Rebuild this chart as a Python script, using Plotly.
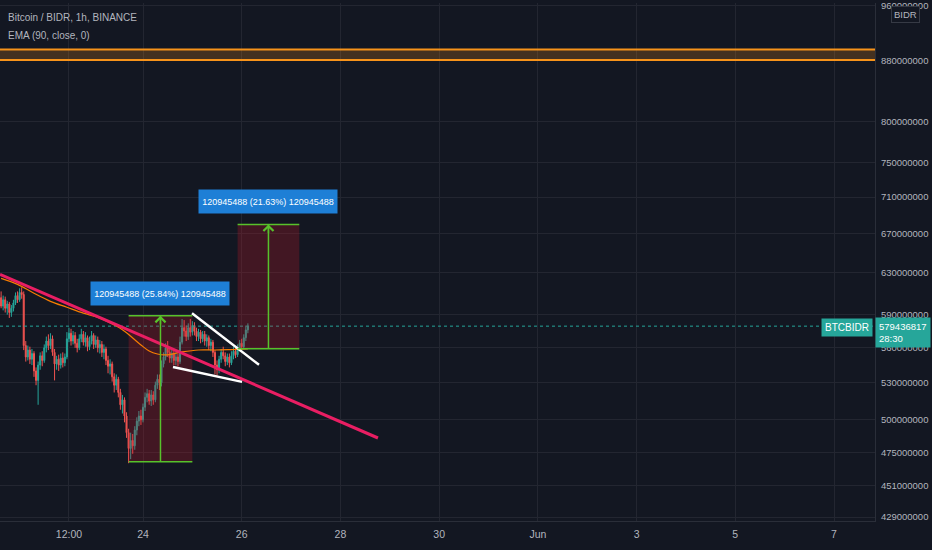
import math
import pandas as pd
import plotly.graph_objects as go

# ---------------- data (prices in millions of BIDR) ----------------
candle_start = "2021-05-21 03:00"
opens = [606, 598, 604, 596, 600, 592, 596, 601, 608, 604, 611, 609, 562, 552, 558, 550, 555, 540, 532, 545,
         553, 549, 560, 566, 562, 568, 556, 546, 550, 545, 551, 547, 552, 568, 573, 566, 571, 564, 560, 568,
         572, 565, 569, 561, 566, 571, 563, 567, 560, 563, 556, 559, 549, 544, 546, 535, 528, 533, 522, 512,
         516, 503, 490, 478, 484, 480, 492, 499, 503, 500, 510, 518, 521, 515, 520, 516, 528, 533, 530, 546,
         552, 560, 556, 551, 555, 549, 552, 548, 565, 578, 575, 570, 578, 574, 580, 575, 570, 574, 568, 572,
         566, 569, 562, 565, 556, 545, 541, 550, 556, 553, 548, 552, 547, 553, 557, 554, 560, 564, 561, 569, 576]
highs = [612, 608, 607, 603, 602, 599, 604, 611, 612, 615, 616, 612, 566, 562, 561, 559, 557, 543, 548, 556,
         557, 563, 570, 572, 573, 571, 559, 553, 554, 555, 556, 555, 574, 578, 577, 575, 574, 568, 572, 577,
         575, 574, 571, 570, 575, 573, 571, 570, 567, 566, 563, 561, 553, 550, 548, 538, 537, 535, 525, 520,
         518, 506, 493, 490, 489, 495, 502, 507, 508, 513, 522, 525, 524, 524, 523, 531, 537, 537, 549, 556,
         564, 566, 560, 559, 558, 556, 555, 570, 586, 585, 580, 582, 586, 584, 583, 578, 577, 576, 575, 575,
         572, 571, 568, 567, 558, 549, 553, 559, 561, 556, 555, 555, 557, 561, 560, 563, 567, 568, 572, 580, 582]
lows = [596, 594, 592, 590, 587, 588, 593, 599, 601, 602, 605, 558, 548, 549, 546, 545, 535, 528, 512, 541,
        544, 547, 556, 558, 559, 553, 532, 541, 540, 542, 543, 544, 550, 565, 562, 563, 560, 556, 558, 565,
        562, 561, 557, 558, 563, 559, 560, 556, 555, 552, 550, 545, 538, 537, 531, 522, 524, 518, 508, 505,
        498, 486, 467, 470, 474, 477, 488, 495, 496, 498, 507, 514, 512, 511, 512, 514, 525, 524, 527, 543,
        549, 552, 547, 547, 545, 545, 544, 546, 563, 570, 566, 567, 570, 571, 571, 566, 566, 564, 565, 562,
        561, 558, 557, 552, 537, 536, 538, 547, 550, 544, 545, 543, 545, 550, 551, 552, 557, 558, 559, 566, 573]
closes = [598, 604, 596, 600, 592, 596, 601, 608, 604, 611, 609, 562, 552, 558, 550, 555, 540, 532, 545, 553,
          549, 560, 566, 562, 568, 556, 546, 550, 545, 551, 547, 552, 568, 573, 566, 571, 564, 560, 568, 572,
          565, 569, 561, 566, 571, 563, 567, 560, 563, 556, 559, 549, 544, 546, 535, 528, 533, 522, 512, 516,
          503, 490, 478, 484, 480, 492, 499, 503, 500, 510, 518, 521, 515, 520, 516, 528, 533, 530, 546, 552,
          560, 556, 551, 555, 549, 552, 548, 565, 578, 575, 570, 578, 574, 580, 575, 570, 574, 568, 572, 566,
          569, 562, 565, 556, 545, 541, 550, 556, 553, 548, 552, 547, 553, 557, 554, 560, 564, 561, 569, 576, 579.436817]

ema_times = ["2021-05-21 03:00", "2021-05-21 11:00", "2021-05-21 19:00", "2021-05-22 03:00", "2021-05-22 11:00",
             "2021-05-22 19:00", "2021-05-23 03:00", "2021-05-23 11:00", "2021-05-23 15:00", "2021-05-23 19:00",
             "2021-05-23 23:00", "2021-05-24 03:00", "2021-05-24 07:00", "2021-05-24 11:00", "2021-05-24 19:00",
             "2021-05-25 03:00", "2021-05-25 11:00", "2021-05-25 19:00", "2021-05-26 03:00"]
ema_values = [624.7, 618.8, 610.2, 602.5, 596.9, 591.4, 586.8, 579.5, 574.9, 568.7,
              562.5, 557.2, 554.6, 553.8, 556.4, 558.1, 558.1, 558.5, 559.0]

trend_times = ["2021-05-21 02:28", "2021-05-28 18:15"]
trend_prices = [628.6, 485.9]
wedge_upper_times = ["2021-05-24 23:50", "2021-05-26 08:25"]
wedge_upper_prices = [591.4, 545.2]
wedge_lower_times = ["2021-05-24 14:35", "2021-05-26 00:10"]
wedge_lower_prices = [543.4, 530.8]

move_size = 120945488
pos1_times = ["2021-05-23 17:00", "2021-05-25 00:00"]
pos1_pct = 25.84
pos2_times = ["2021-05-25 22:00", "2021-05-27 04:00"]
pos2_pct = 21.63

band_prices = [881.0, 895.5]
last_price = 579436817
countdown = "28:30"

x_range = ["2021-05-21 02:28", "2021-06-07 19:56"]
x_tick_vals = ["2021-05-22 12:00", "2021-05-24", "2021-05-26", "2021-05-28", "2021-05-30",
               "2021-06-01", "2021-06-03", "2021-06-05", "2021-06-07"]
x_tick_text = ["12:00", "24", "26", "28", "30", "Jun", "3", "5", "7"]
y_tick_vals = [429e6, 451e6, 475e6, 500e6, 530e6, 560e6, 590e6, 630e6, 670e6, 710e6, 750e6, 800e6, 880e6, 960e6]
y_tick_text = [str(int(v)) for v in y_tick_vals]
y_range_log = [8.62981, 8.98390]

# ---------------- styling ----------------
BG = "#131722"
GRID = "#232631"
TXT = "#b2b5be"
UP = "#26a69a"
DOWN = "#ef5350"
GREEN = "#57c22b"
FONT = "Liberation Sans, Arial, sans-serif"

M = 1e6
times = pd.date_range(candle_start, periods=len(closes), freq="h")

fig = go.Figure()

# current price dotted line (behind candles)
fig.add_trace(go.Scatter(x=x_range, y=[last_price, last_price], mode="lines",
                         line=dict(color=UP, width=1, dash="dot"), hoverinfo="skip"))

fig.add_trace(go.Candlestick(
    x=times, open=[v * M for v in opens], high=[v * M for v in highs],
    low=[v * M for v in lows], close=[v * M for v in closes],
    increasing=dict(line=dict(color=UP, width=1), fillcolor=UP),
    decreasing=dict(line=dict(color=DOWN, width=1), fillcolor=DOWN),
    whiskerwidth=0, hoverinfo="skip"))

# orange horizontal band
fig.add_trace(go.Scatter(x=x_range, y=[band_prices[0] * M] * 2, mode="lines",
                         line=dict(color="#f7931a", width=2), hoverinfo="skip"))
fig.add_trace(go.Scatter(x=x_range, y=[band_prices[1] * M] * 2, mode="lines", fill="tonexty",
                         fillcolor="rgba(247,147,26,0.22)",
                         line=dict(color="#f7931a", width=2), hoverinfo="skip"))

# position boxes
positions = [(pos1_times, pos1_pct), (pos2_times, pos2_pct)]
for (t, pct) in positions:
    entry = move_size / (pct / 100.0)
    target = entry + move_size
    fig.add_trace(go.Scatter(x=[t[0], t[1], t[1], t[0], t[0]], y=[entry, entry, target, target, entry],
                             mode="lines", fill="toself", fillcolor="rgba(200,25,40,0.26)",
                             line=dict(width=0), hoverinfo="skip"))

# EMA
fig.add_trace(go.Scatter(x=ema_times, y=[v * M for v in ema_values], mode="lines",
                         line=dict(color="#f57c00", width=1.2, shape="spline"), hoverinfo="skip"))

# trend line
fig.add_trace(go.Scatter(x=trend_times, y=[v * M for v in trend_prices], mode="lines",
                         line=dict(color="#e91e63", width=3), hoverinfo="skip"))
# wedge lines
fig.add_trace(go.Scatter(x=wedge_upper_times, y=[v * M for v in wedge_upper_prices], mode="lines",
                         line=dict(color="#ffffff", width=2.5), hoverinfo="skip"))
fig.add_trace(go.Scatter(x=wedge_lower_times, y=[v * M for v in wedge_lower_prices], mode="lines",
                         line=dict(color="#ffffff", width=2.5), hoverinfo="skip"))

annotations = []
for (t, pct) in positions:
    entry = move_size / (pct / 100.0)
    target = entry + move_size
    t0, t1 = pd.Timestamp(t[0]), pd.Timestamp(t[1])
    tm = t0 + (t1 - t0) / 2
    for lvl in (entry, target):
        fig.add_trace(go.Scatter(x=[t0, t1], y=[lvl, lvl], mode="lines",
                                 line=dict(color=GREEN, width=1.5), hoverinfo="skip"))
    fig.add_trace(go.Scatter(x=[tm, tm], y=[entry, target], mode="lines",
                             line=dict(color=GREEN, width=1.5), hoverinfo="skip"))
    annotations.append(dict(x=tm, y=math.log10(target), xref="x", yref="y", ax=0, ay=10,
                            showarrow=True, arrowhead=4, arrowsize=1.3, arrowwidth=1.5,
                            arrowcolor=GREEN, text=""))
    annotations.append(dict(x=tm, y=math.log10(target), xref="x", yref="y", yanchor="bottom",
                            yshift=10, showarrow=False,
                            text=f"{move_size} ({pct:.2f}%) {move_size}",
                            font=dict(family=FONT, size=9, color="#ffffff"),
                            bgcolor="#1e7fd6", borderpad=2, width=134, height=19))

# legend texts
annotations.append(dict(x=6 / 875, y=1 - 15 / 521, xref="paper", yref="paper", xanchor="left",
                        yanchor="middle", showarrow=False, text="Bitcoin / BIDR, 1h, BINANCE",
                        font=dict(family=FONT, size=10, color=TXT)))
annotations.append(dict(x=6 / 875, y=1 - 33 / 521, xref="paper", yref="paper", xanchor="left",
                        yanchor="middle", showarrow=False, text="EMA (90, close, 0)",
                        font=dict(family=FONT, size=10, color=TXT)))
# price labels
annotations.append(dict(x=1, y=math.log10(last_price), xref="paper", yref="y", xanchor="left",
                        yanchor="top", yshift=9, showarrow=False, align="left",
                        text=f"{last_price}<br>{countdown}",
                        font=dict(family=FONT, size=9.5, color="#ffffff"),
                        bgcolor=UP, borderpad=3))
annotations.append(dict(x=1, y=math.log10(last_price), xref="paper", yref="y", xanchor="right",
                        yanchor="middle", xshift=-2, yshift=-1, showarrow=False, text="BTCBIDR",
                        font=dict(family=FONT, size=10, color="#ffffff"),
                        bgcolor=UP, borderpad=3))
annotations.append(dict(x=905 / 875, y=1 - 12 / 521, xref="paper", yref="paper", xanchor="center",
                        yanchor="middle", showarrow=False, text="BIDR",
                        font=dict(family=FONT, size=9.5, color=TXT),
                        bgcolor=BG, bordercolor="#363a45", borderwidth=1, borderpad=2))

fig.update_layout(
    width=932, height=550, margin=dict(l=0, r=57, t=0, b=29),
    paper_bgcolor=BG, plot_bgcolor=BG, showlegend=False, hovermode=False,
    font=dict(family=FONT, color=TXT, size=10),
    annotations=annotations,
    xaxis=dict(type="date", range=x_range, tickvals=x_tick_vals, ticktext=x_tick_text,
               rangeslider=dict(visible=False), showgrid=True, gridcolor=GRID, gridwidth=1,
               showline=True, linecolor="#2a2e39", linewidth=1, ticks="", ticklabelstandoff=3,
               tickfont=dict(family=FONT, size=10.5, color=TXT), zeroline=False, fixedrange=True),
    yaxis=dict(type="log", range=y_range_log, side="right", tickvals=y_tick_vals, ticktext=y_tick_text,
               showgrid=True, gridcolor=GRID, gridwidth=1, showline=True, linecolor="#2a2e39",
               linewidth=1, ticks="", ticklabelstandoff=3, ticklabeloverflow="allow",
               tickfont=dict(family=FONT, size=9.5, color=TXT), zeroline=False, fixedrange=True),
)

fig.write_html("out.html")
